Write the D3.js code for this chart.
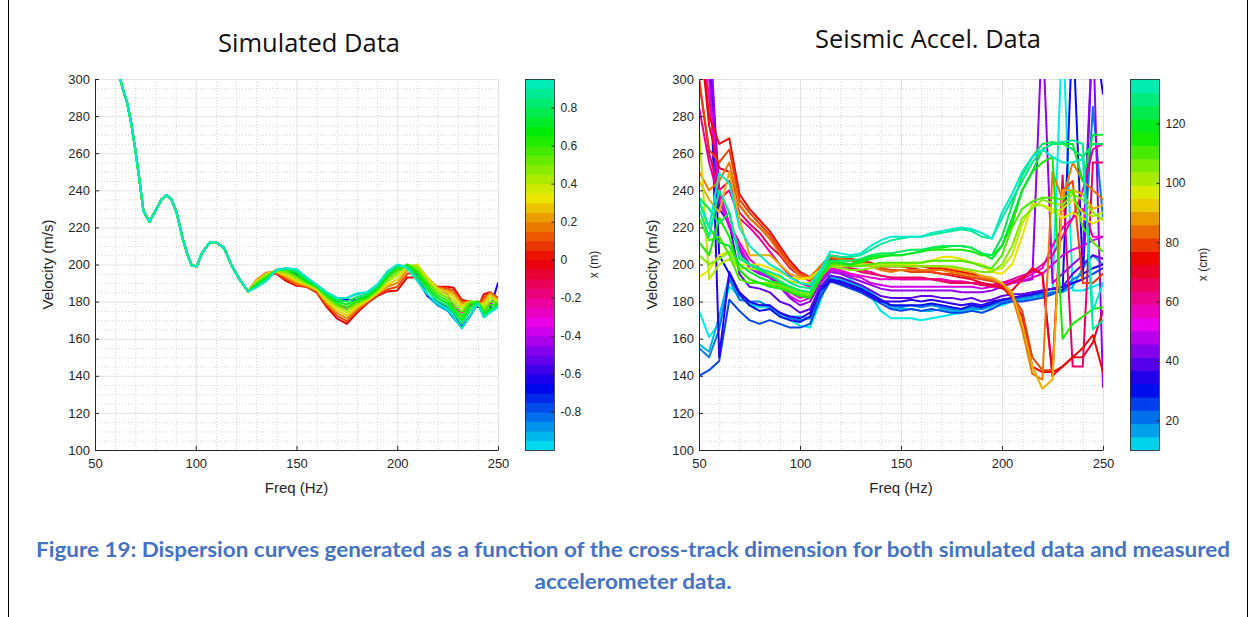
<!DOCTYPE html>
<html><head><meta charset="utf-8">
<script src="https://cdn.jsdelivr.net/npm/d3@7"></script>
<style>body{margin:0;background:#fff}svg{display:block}</style></head>
<body><svg id="c" width="1253" height="617"></svg>
<script>
// ---------- tick labels ----------
const freqTicks = [50, 100, 150, 200, 250];
const velTicks = [100, 120, 140, 160, 180, 200, 220, 240, 260, 280, 300];
const simCbTicks = [-0.8, -0.6, -0.4, -0.2, 0, 0.2, 0.4, 0.6, 0.8];
const seisCbTicks = [20, 40, 60, 80, 100, 120];

// ---------- simulated data ----------
// common low-frequency trunk shared by every simulated curve
const simTrunkFreq = [62, 64, 66, 68, 70, 72, 74, 77, 80, 83, 85.5, 88, 90.5, 93.5, 96, 98, 100.5, 103, 107, 110, 114, 118, 122, 126];
const simTrunkVel  = [302, 294, 287, 276, 262, 246, 229, 223, 229, 235, 237.5, 235, 228, 214, 205, 199.5, 199, 206, 212, 212, 209, 199, 191.5, 185.5];
const simTailFreq  = [126, 130, 135, 140, 145, 150, 155, 160, 165, 170, 175, 180, 185, 190, 195, 200, 205, 210, 215, 220, 225, 228, 232, 236, 240, 243, 246, 250];
const simPos = [-0.9, -0.6, -0.3, 0, 0.1, 0.2, 0.3, 0.4, 0.5, 0.6, 0.7, 0.8, 0.95];
const simVel = [
  [185.5,188,191.5,197,198,197,193,189,185,182,182,184,185,189,195.5,199.5,198.5,191.5,183,178,175,171,166,172,179,172,175,178],
  [185.5,189,193,197,197.5,195,191,188.5,184,180.5,181,181,183,187.5,196,199.5,199,194,183,180,177,174,166,172,179,172,176,190],
  [185.5,190,194,197,196,193,190,187.5,182,178,176,179,182,186,193,197,199,196,190,186,184,177,174,178,180,175,179,181],
  [185.5,191,195,195,191,188.5,188,185,177,171,168,174,179,183,185.5,186,193,193,189,188,188,187.5,181,180,177,184,185,182],
  [185.5,191.5,195.5,195.5,192,189,188,185.5,178,172.5,169.5,175,179.5,183.5,186.5,188,195,196,191,188,187,186,180,180,178,182,185,182],
  [185.5,191.5,195.5,196,193,190,188.5,186,179,174,171,176,180,184,188,190,197,199,193,187.5,186,184.5,179,180,178.5,180,184.5,181],
  [185.5,191,195,196,194,191,189,186.5,180,175.5,172.5,177,180.5,184.5,189,192,198.5,200,193,187,185,183,178,180,179,178.5,183.5,180.5],
  [185.5,190.5,194.5,196.5,195,192,189.5,187,181,177,174,178,181,185,190.5,194,199.5,199.5,192,186,183.5,181,176.5,180,179.5,177,182,180],
  [185.5,190,194,196.5,196,193,190,187.5,182,178,175.5,179,181.5,186,191.5,195.5,200,198,190.5,185,182,179,174.5,180,180,175.5,180,179.5],
  [185.5,189.5,193,197,197,194,190.5,188,183,179,177,180,182,186.5,193,197,200,196.5,189,183.5,180.5,177,172,179,180,174,178,179],
  [185.5,189,192.5,197,197.5,195.5,191,188.5,184,180,178.5,181,183,187,194,198.5,199.5,195,187.5,182,179,175.5,170,177,180,173,176,178.5],
  [185.5,188,192,197,198,196.5,192,189,184.5,181,180,182.5,184,188,195,199.5,199,193,186,180.5,177.5,174,168,175,179.5,172,175,178],
  [185.5,187.5,191,197,198,197.5,193,189,185,182,182,184.5,185,189,196,200,198,191,184,179,176,172,165.5,172,179,171.5,174,177]
];

// ---------- seismic accelerometer data ----------
const seisFreq = [50,55,60,65,70,75,80,85,90,95,100,105,110,115,120,125,130,135,140,145,150,155,160,165,170,175,180,185,190,195,200,205,210,215,220,225,230,235,240,245,250];
const seisPos = [10,15,20,25,30,35,40,45,50,55,60,65,70,75,80,85,90,95,100,105,110,115,120,125,130,135];
const seisVel = [
  [175,161,168,188,183,178,177,177,172,170,167,166,180,196,196,192,188,183,175,171,171,171,170,171,172,173,174,175,176,177,178,180,181,182,182,184,330,186,186,188,190],
  [157,153,172,194,183,179,178,178,173,172,172,171,183,193,192,190,188,185,181,177,176,176,175,175,176,175,175,176,176,178,180,181,181,182,183,185,185,188,198,205,200],
  [155,150,165,192,181,180,180,177,174,171,170,171,184,192,190,188,186,183,180,178,177,178,177,178,177,176,176,177,176,178,180,181,182,183,184,185,186,192,195,285,225],
  [140,143,148,181,175,170,168,170,168,166,166,168,182,191,189,187,185,182,179,176,175,176,175,176,175,174,174,175,174,176,179,180,180,181,182,184,186,190,192,195,198],
  [330,330,205,195,184,178,175,176,172,170,169,172,187,192,191,189,187,184,181,178,178,178,178,179,178,177,176,178,177,179,181,182,183,184,185,187,186,330,195,198,200],
  [330,330,150,196,185,180,178,178,174,172,171,174,186,191,190,188,186,183,180,180,180,181,180,181,180,179,178,179,178,180,181,182,183,184,186,187,188,190,192,330,292],
  [330,330,230,222,195,188,187,185,180,178,174,176,188,194,193,191,189,186,183,182,182,182,183,183,182,182,181,182,180,181,183,184,184,185,186,187,188,195,200,205,203],
  [330,330,240,221,208,198,195,193,188,182,178,180,190,196,195,193,191,189,187,186,186,186,186,186,186,186,185,185,185,186,188,190,191,192,330,190,195,200,205,330,134],
  [330,300,235,220,210,200,196,194,189,183,180,182,191,197,196,194,193,190,189,188,188,188,188,188,188,188,188,188,187,188,189,190,191,193,195,200,205,208,210,213,215],
  [330,290,240,222,212,203,198,195,190,185,182,183,192,198,197,195,194,193,192,192,192,192,192,192,192,191,190,190,189,189,190,191,192,195,198,210,220,225,230,215,215],
  [285,255,235,240,225,220,214,207,200,194,190,188,195,200,199,198,197,196,194,193,192,192,192,192,192,191,191,190,190,189,190,192,194,196,200,205,215,225,240,262,265],
  [300,260,240,245,228,222,217,210,205,198,194,191,196,201,200,198,196,195,194,193,193,193,193,192,191,190,190,190,189,188,188,190,193,197,195,140,248,145,145,255,255],
  [330,275,252,250,232,225,220,214,207,200,195,192,197,203,203,202,201,200,199,199,199,198,197,196,195,194,193,192,190,189,187,186,192,198,195,140,145,150,150,158,175],
  [330,280,265,268,238,230,224,218,210,202,196,193,198,204,203,203,202,201,199,199,199,199,199,198,198,197,196,195,193,192,188,182,172,145,142,142,145,150,155,162,142],
  [300,262,255,262,235,228,222,216,208,200,195,193,199,205,204,203,202,200,198,197,197,196,196,196,195,195,194,193,192,191,190,183,175,150,143,143,240,245,190,190,195],
  [250,240,245,255,232,225,220,214,206,199,194,193,199,204,203,202,201,199,197,196,197,197,197,197,197,196,195,194,193,192,190,183,165,141,138,250,235,255,245,240,235],
  [245,235,228,250,225,205,205,205,200,195,193,192,197,202,201,200,200,199,199,199,199,199,199,199,199,198,197,196,194,193,190,185,168,145,133,138,240,240,238,230,232],
  [193,197,205,207,200,200,200,198,196,193,192,193,197,200,200,200,200,200,200,200,200,200,201,202,204,204,203,201,199,196,195,200,215,233,232,230,225,228,225,222,225],
  [274,192,200,203,198,198,197,195,193,191,190,190,196,199,199,199,200,200,200,200,200,201,201,202,202,202,202,201,200,197,198,205,222,232,232,228,230,235,228,226,228],
  [205,200,203,207,197,192,190,190,189,187,185,184,193,199,198,197,197,198,199,199,199,199,199,199,199,199,198,197,196,196,200,210,225,230,235,233,232,238,235,228,224],
  [225,213,215,205,192,190,190,189,188,186,184,183,193,200,200,199,199,200,201,201,201,201,201,202,202,202,202,201,199,198,205,220,230,234,236,236,235,240,220,212,207],
  [212,205,225,215,197,192,190,188,187,185,183,182,192,201,201,200,201,203,204,205,205,206,207,208,208,208,208,207,205,205,210,222,240,250,255,258,160,168,172,176,177],
  [234,220,212,210,200,196,193,191,190,188,186,185,194,202,201,200,202,204,205,205,205,206,207,209,209,210,210,209,206,203,210,225,240,250,262,265,265,265,245,270,270],
  [236,230,222,228,203,200,197,194,191,188,186,185,195,202,202,202,203,205,206,206,207,208,208,209,210,210,210,209,206,205,215,232,248,258,265,266,265,262,258,265,265],
  [230,215,240,228,205,200,198,196,194,190,188,187,195,205,204,204,205,208,211,213,214,215,215,216,217,218,219,218,215,214,225,235,245,255,262,265,266,267,265,165,170],
  [235,220,249,244,220,210,205,200,197,193,190,189,197,207,206,205,206,210,213,215,215,215,215,217,218,219,220,219,217,214,228,238,250,258,262,258,255,255,257,175,190]
];

// ---------- drawing ----------
const svg = d3.select('#c');
const FONT = "'Liberation Sans', Arial, sans-serif";
const INK = '#262626';

// shifted hsv colormap: cyan -> blue -> magenta -> red -> yellow -> green -> teal
function cmap(t) {
  const h = (180 + t * 351) % 360;
  return d3.hsl(h, 1, 0.46).formatHex();
}

svg.append('line').attr('x1', 8.5).attr('x2', 8.5).attr('y1', 0).attr('y2', 617).attr('stroke', '#000').attr('stroke-width', 1);
svg.append('line').attr('x1', 1247.5).attr('x2', 1247.5).attr('y1', 0).attr('y2', 617).attr('stroke', '#000').attr('stroke-width', 1);

function panel(cfg) {
  const xS = d3.scaleLinear().domain([50, 250]).range([cfg.x0, cfg.x1]);
  const yS = d3.scaleLinear().domain([100, 300]).range([cfg.y1, cfg.y0]);
  const g = svg.append('g');

  // minor grid
  const minorX = d3.range(60, 250, 10).filter(v => v % 50 !== 0);
  const minorY = d3.range(105, 300, 5).filter(v => v % 20 !== 0);
  g.selectAll(null).data(minorX).join('line')
    .attr('x1', d => xS(d) + 0.5).attr('x2', d => xS(d) + 0.5).attr('y1', cfg.y0).attr('y2', cfg.y1)
    .attr('stroke', '#d4d4d4').attr('stroke-width', 1).attr('stroke-dasharray', '1,2');
  g.selectAll(null).data(minorY).join('line')
    .attr('y1', d => yS(d) + 0.5).attr('y2', d => yS(d) + 0.5).attr('x1', cfg.x0).attr('x2', cfg.x1)
    .attr('stroke', '#d4d4d4').attr('stroke-width', 1).attr('stroke-dasharray', '1,2');
  // major grid
  g.selectAll(null).data(freqTicks.slice(1)).join('line')
    .attr('x1', d => xS(d) + 0.5).attr('x2', d => xS(d) + 0.5).attr('y1', cfg.y0).attr('y2', cfg.y1)
    .attr('stroke', '#e2e2e2').attr('stroke-width', 1);
  g.selectAll(null).data(velTicks.slice(1)).join('line')
    .attr('y1', d => yS(d) + 0.5).attr('y2', d => yS(d) + 0.5).attr('x1', cfg.x0).attr('x2', cfg.x1)
    .attr('stroke', '#e2e2e2').attr('stroke-width', 1);

  // curves
  const clipId = 'clip' + cfg.id;
  svg.append('clipPath').attr('id', clipId).append('rect')
    .attr('x', cfg.x0).attr('y', cfg.y0).attr('width', cfg.x1 - cfg.x0).attr('height', cfg.y1 - cfg.y0);
  const line = d3.line().x(d => xS(d[0])).y(d => yS(d[1]));
  g.append('g').attr('clip-path', `url(#${clipId})`)
    .selectAll('path').data(cfg.series).join('path')
    .attr('d', d => line(d.pts))
    .attr('fill', 'none').attr('stroke', d => d.color).attr('stroke-width', 2)
    .attr('stroke-linejoin', 'round').attr('stroke-linecap', 'round');

  // axes
  const ax = g.append('g').attr('transform', `translate(0,${cfg.y1})`)
    .call(d3.axisBottom(xS).tickValues(freqTicks).tickSizeInner(-4).tickSizeOuter(0).tickPadding(8));
  const ay = g.append('g').attr('transform', `translate(${cfg.x0},0)`)
    .call(d3.axisLeft(yS).tickValues(velTicks).tickSizeInner(-4).tickSizeOuter(0).tickPadding(5));
  [ax, ay].forEach(a => {
    a.select('.domain').attr('stroke', INK).attr('stroke-width', 1);
    a.selectAll('.tick line').attr('stroke', INK);
    a.selectAll('.tick text').attr('fill', INK).style('font-family', FONT).style('font-size', '13px');
  });
  ax.selectAll('.tick text').attr('dy', '0.75em').attr('y', 8);

  g.append('text').attr('x', (cfg.x0 + cfg.x1) / 2).attr('y', cfg.y1 + 43)
    .attr('text-anchor', 'middle').attr('fill', INK)
    .style('font-family', FONT).style('font-size', '15px').text('Freq (Hz)');
  g.append('text').attr('transform', `translate(${cfg.x0 - 42},${(cfg.y0 + cfg.y1) / 2}) rotate(-90)`)
    .attr('text-anchor', 'middle').attr('fill', INK)
    .style('font-family', FONT).style('font-size', '15px').text('Velocity (m/s)');

  // title
  g.append('text').attr('x', cfg.titleX).attr('y', cfg.titleY).attr('text-anchor', 'middle')
    .attr('fill', '#111').style('font-family', "'Open Sans', 'Noto Sans', sans-serif").style('font-size', '25px')
    .attr('textLength', cfg.titleW).attr('lengthAdjust', 'spacingAndGlyphs').text(cfg.title);

  // colorbar
  const cS = d3.scaleLinear().domain(cfg.cbDomain).range([cfg.y1, cfg.y0]);
  const bands = d3.range(cfg.cbBands);
  const bandH = (cfg.y1 - cfg.y0) / cfg.cbBands;
  g.selectAll(null).data(bands).join('rect')
    .attr('x', cfg.cbX).attr('width', cfg.cbW)
    .attr('y', i => cfg.y1 - (i + 1) * bandH).attr('height', bandH + 0.6)
    .attr('fill', i => cmap((i + 0.5) / cfg.cbBands));
  g.append('rect').attr('x', cfg.cbX + 0.5).attr('y', cfg.y0 + 0.5).attr('width', cfg.cbW).attr('height', cfg.y1 - cfg.y0)
    .attr('fill', 'none').attr('stroke', INK).attr('stroke-width', 0.8);
  const cax = g.append('g').attr('transform', `translate(${cfg.cbX + cfg.cbW + 0.5},0)`)
    .call(d3.axisRight(cS).tickValues(cfg.cbTicks).tickSizeInner(-3).tickSizeOuter(0).tickPadding(6)
      .tickFormat(d => String(Math.round(d * 10) / 10)));
  cax.select('.domain').remove();
  cax.selectAll('.tick line').attr('stroke', INK);
  cax.selectAll('.tick text').attr('fill', INK).style('font-family', FONT).style('font-size', '12px');
  g.append('text').attr('transform', `translate(${cfg.cbLabelX},${(cfg.y0 + cfg.y1) / 2}) rotate(-90)`)
    .attr('text-anchor', 'middle').attr('fill', INK)
    .style('font-family', FONT).style('font-size', '12px').text(cfg.cbLabel);
}

const simDomain = [-1, 0.95];
const simSeries = simPos.map((p, i) => ({
  color: cmap((p - simDomain[0]) / (simDomain[1] - simDomain[0])),
  pts: simTrunkFreq.map((f, j) => [f, simTrunkVel[j]])
        .concat(simTailFreq.slice(1).map((f, j) => [f, simVel[i][j + 1]]))
}));
const seisDomain = [10, 135];
const seisSeries = seisPos.map((p, i) => ({
  color: cmap((p - seisDomain[0]) / (seisDomain[1] - seisDomain[0])),
  pts: seisFreq.map((f, j) => [f, seisVel[i][j]])
}));

panel({ id: 'a', x0: 95, x1: 498, y0: 79, y1: 450, series: simSeries,
  title: 'Simulated Data', titleX: 309, titleY: 52, titleW: 182,
  cbX: 525, cbW: 29, cbDomain: simDomain, cbBands: 39, cbTicks: simCbTicks, cbLabel: 'x (m)', cbLabelX: 598 });
panel({ id: 'b', x0: 699, x1: 1103, y0: 79, y1: 450, series: seisSeries,
  title: 'Seismic Accel. Data', titleX: 928, titleY: 48, titleW: 226,
  cbX: 1130, cbW: 29, cbDomain: seisDomain, cbBands: 28, cbTicks: seisCbTicks, cbLabel: 'x (cm)', cbLabelX: 1207 });

// caption
const capStyle = s => s.attr('text-anchor', 'middle').attr('fill', '#4472c4')
  .style('font-family', "Lato, 'Open Sans', sans-serif").style('font-weight', 'bold').style('font-size', '20px');
svg.append('text').attr('x', 633).attr('y', 557).call(capStyle)
  .attr('textLength', 1194).attr('lengthAdjust', 'spacingAndGlyphs')
  .text('Figure 19: Dispersion curves generated as a function of the cross-track dimension for both simulated data and measured');
svg.append('text').attr('x', 633).attr('y', 589).call(capStyle)
  .attr('textLength', 197).attr('lengthAdjust', 'spacingAndGlyphs')
  .text('accelerometer data.');
</script></body></html>
